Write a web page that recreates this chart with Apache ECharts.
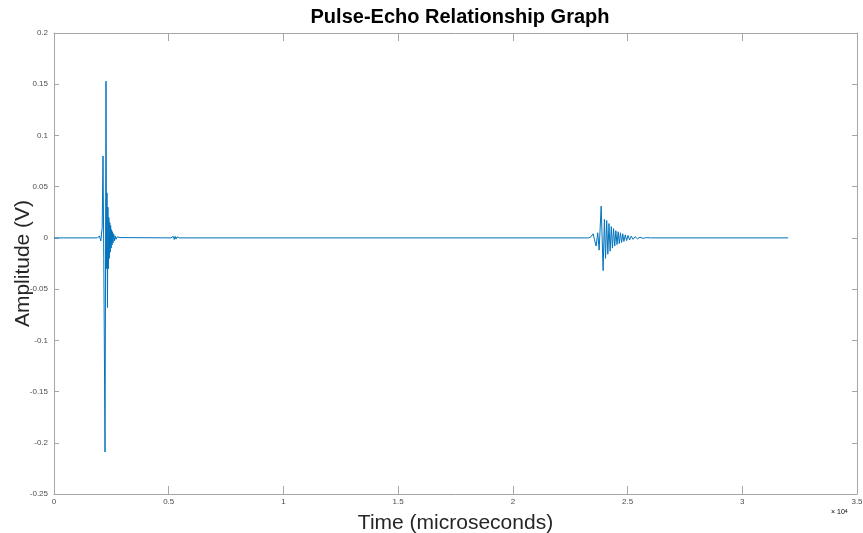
<!DOCTYPE html>
<html>
<head>
<meta charset="utf-8">
<script src="https://cdn.jsdelivr.net/npm/echarts@6/dist/echarts.min.js"></script>
<style>
  html, body { margin: 0; padding: 0; background: #fff; }
  #chart { width: 863px; height: 533px; }
</style>
</head>
<body>
<div id="chart"></div>
<script>
// time in microseconds, amplitude in volts
var timeUs = [
  0, 1900, 1980, 2040, 2100, 2136, 2170, 2224, 2267, 2290, 2310, 2330, 2350, 2370, 2390,
  2410, 2430, 2450, 2470, 2490, 2510, 2530, 2550, 2570, 2600, 2630, 2660, 2700, 2750,
  2800, 2880, 2950,
  5100, 5200, 5240, 5280, 5320, 5360, 5400, 5460,
  23300, 23400, 23500, 23560, 23630, 23700, 23760, 23850, 23935, 23990, 24040, 24090,
  24140, 24190, 24240, 24290, 24340, 24390, 24440, 24490, 24540, 24590, 24640, 24690,
  24740, 24790, 24840, 24900, 24960, 25020, 25090, 25160, 25240, 25330, 25430, 25540,
  25680, 25820, 26000, 32000
];
var amplitude = [
  0, 0, 0.002, -0.003, 0.01, 0.08, -0.02, -0.209, 0.153, -0.03, 0.044, -0.068, 0.03, -0.03, 0.02,
  -0.02, 0.015, -0.014, 0.012, -0.01, 0.008, -0.007, 0.006, -0.005, 0.004, -0.003, 0.002, -0.0015, 0.001,
  -0.0007, 0.0003, 0,
  0, 0.0015, -0.0015, 0.0015, -0.0012, 0.001, -0.0008, 0,
  0, 0.001, 0.004, -0.002, -0.008, 0.005, -0.012, 0.031, -0.032, 0.018, -0.02, 0.017,
  -0.016, 0.014, -0.013, 0.011, -0.01, 0.009, -0.008, 0.007, -0.0065, 0.006, -0.0055, 0.005,
  -0.0045, 0.004, -0.0035, 0.003, -0.0027, 0.0024, -0.002, 0.0017, -0.0014, 0.0011, -0.0009, 0.0007,
  -0.0005, 0.0003, 0, 0
];
var xTickLabels = ['0', '0.5', '1', '1.5', '2', '2.5', '3', '3.5'];

var myChart = echarts.init(document.getElementById('chart'));
var axisGray = '#a6a6a6';
var labelGray = '#4d4d4d';

var option = {
  animation: false,
  title: {
    text: 'Pulse-Echo Relationship Graph',
    left: 455,
    textAlign: 'center',
    top: 2,
    textStyle: { fontFamily: 'Liberation Sans', fontWeight: 'bold', fontSize: 20, color: '#000' }
  },
  grid: { left: 54, right: 6, top: 33, bottom: 39, outerBoundsMode: 'none' },
  xAxis: [
    {
      type: 'value', min: 0, max: 35000, interval: 5000,
      name: 'Time (microseconds)', nameLocation: 'middle', nameGap: 19,
      nameTextStyle: { fontFamily: 'Liberation Sans', fontSize: 21, color: '#262626' },
      axisLine: { onZero: false, lineStyle: { color: axisGray } },
      axisTick: { inside: true, length: 8, lineStyle: { color: axisGray } },
      axisLabel: {
        fontFamily: 'Liberation Sans', fontSize: 8, color: labelGray, margin: 4,
        formatter: function (v) { return xTickLabels[Math.round(v / 5000)]; }
      },
      splitLine: { show: false }
    },
    {
      type: 'value', position: 'top', min: 0, max: 35000, interval: 5000,
      axisLine: { onZero: false, lineStyle: { color: axisGray } },
      axisTick: { inside: true, length: 8, lineStyle: { color: axisGray } },
      axisLabel: { show: false },
      splitLine: { show: false }
    }
  ],
  yAxis: [
    {
      type: 'value', min: -0.25, max: 0.2, interval: 0.05,
      name: 'Amplitude (V)', nameLocation: 'middle', nameGap: 20, nameMoveOverlap: false,
      nameTextStyle: { fontFamily: 'Liberation Sans', fontSize: 21, color: '#262626' },
      axisLine: { onZero: false, lineStyle: { color: axisGray } },
      axisTick: { inside: true, length: 5, lineStyle: { color: axisGray } },
      axisLabel: {
        fontFamily: 'Liberation Sans', fontSize: 8, color: labelGray, margin: 6,
        formatter: function (v) { return String(+v.toFixed(2)); }
      },
      splitLine: { show: false }
    },
    {
      type: 'value', position: 'right', min: -0.25, max: 0.2, interval: 0.05,
      axisLine: { onZero: false, lineStyle: { color: axisGray } },
      axisTick: { inside: true, length: 5, lineStyle: { color: axisGray } },
      axisLabel: { show: false },
      splitLine: { show: false }
    }
  ],
  graphic: [
    {
      type: 'text', left: 831, top: 509,
      style: {
        text: '{a|× 10}{b|4}',
        rich: {
          a: { fontFamily: 'Liberation Sans', fontSize: 7, color: labelGray },
          b: { fontFamily: 'Liberation Sans', fontSize: 5, color: labelGray, verticalAlign: 'top' }
        }
      }
    }
  ],
  series: [
    {
      name: 'signal',
      type: 'line',
      xAxisIndex: 0,
      yAxisIndex: 0,
      showSymbol: false,
      sampling: false,
      lineStyle: { width: 1, color: '#0072BD' },
      data: timeUs.map(function (t, i) { return [t, amplitude[i]]; })
    }
  ]
};
myChart.setOption(option);
</script>
</body>
</html>
